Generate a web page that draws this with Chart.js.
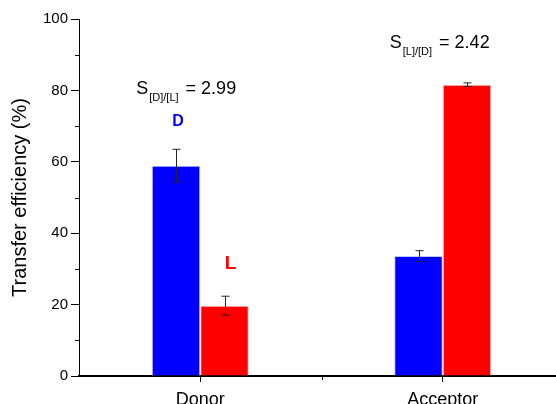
<!doctype html>
<html>
<head>
  <meta charset="utf-8" />
  <title>Transfer efficiency</title>
  <style>
    html, body { margin:0; padding:0; background:#fff; overflow:hidden; }
    #wrap { width:565px; height:404px; }
  </style>
</head>
<body>
  <div id="wrap"><canvas id="chart" width="565" height="404"></canvas></div>

  <script src="https://cdn.jsdelivr.net/npm/chart.js@4.4.1/dist/chart.umd.min.js"></script>
  <script>
    // data
    const categories = ['Donor', 'Acceptor'];
    const donorValues = [58.9, 33.6];      // blue "D"
    const donorErrors = [4.6, 1.5];
    const ligandValues = [19.7, 81.6];     // red "L"
    const ligandErrors = [2.65, 0.5];
    const yTicks = [0, 20, 40, 60, 80, 100];
    const yMinorTicks = [10, 30, 50, 70, 90];
    const selectivity = ['2.99', '2.42'];

    const FONT = 'Arial, "Liberation Sans", sans-serif';

    // error bars, minor ticks and the text labels
    const extras = {
      id: 'extras',
      afterDatasetsDraw(chart) {
        const { ctx, scales: { x, y } } = chart;
        const errs = [donorErrors, ligandErrors];
        ctx.save();
        ctx.strokeStyle = '#222';
        ctx.lineWidth = 1;
        chart.data.datasets.forEach((ds, di) => {
          const meta = chart.getDatasetMeta(di);
          meta.data.forEach((bar, i) => {
            const v = ds.data[i], e = errs[di][i];
            const px = Math.round(bar.x) + 0.5;
            const top = y.getPixelForValue(v + e), bot = y.getPixelForValue(v - e);
            ctx.beginPath();
            ctx.moveTo(px, top); ctx.lineTo(px, bot);
            ctx.moveTo(px - 4, top); ctx.lineTo(px + 4, top);
            ctx.moveTo(px - 4, bot); ctx.lineTo(px + 4, bot);
            ctx.stroke();
          });
        });
        ctx.restore();
      },
      afterDraw(chart) {
        const { ctx, scales: { x, y }, chartArea } = chart;
        ctx.save();
        // minor ticks
        ctx.strokeStyle = '#000';
        ctx.lineWidth = 1;
        ctx.beginPath();
        yMinorTicks.forEach(v => {
          const py = Math.round(y.getPixelForValue(v)) + 0.5;
          ctx.moveTo(chartArea.left - 4, py); ctx.lineTo(chartArea.left, py);
        });
        const mx = Math.round((x.getPixelForValue(0) + x.getPixelForValue(1)) / 2) + 0.5;
        ctx.moveTo(mx, chartArea.bottom); ctx.lineTo(mx, chartArea.bottom + 4);
        ctx.stroke();

        // selectivity labels with subscripts
        const sLabel = (left, value, sub, num) => {
          const base = y.getPixelForValue(value);
          ctx.fillStyle = '#000';
          ctx.textBaseline = 'alphabetic';
          ctx.textAlign = 'left';
          ctx.font = '18px ' + FONT;
          ctx.fillText('S', left, base);
          let cx = left + ctx.measureText('S').width + 1;
          ctx.font = '11px ' + FONT;
          ctx.fillText(sub, cx, base + 7);
          cx += ctx.measureText(sub).width;
          ctx.font = '18px ' + FONT;
          ctx.fillText(' = ' + num, cx + 2, base);
        };
        sLabel(x.getPixelForValue(0) - 64, 79, '[D]/[L]', selectivity[0]);
        sLabel(x.getPixelForValue(1) - 53, 91.8, '[L]/[D]', selectivity[1]);

        // series letters
        const d0 = chart.getDatasetMeta(0).data[0], l0 = chart.getDatasetMeta(1).data[0];
        ctx.textAlign = 'center';
        ctx.textBaseline = 'middle';
        ctx.font = 'bold 16px ' + FONT;
        ctx.fillStyle = '#0000ff';
        ctx.fillText('D', d0.x + 2, y.getPixelForValue(71.3));
        ctx.font = 'bold 19px ' + FONT;
        ctx.fillStyle = '#ff0000';
        ctx.fillText('L', l0.x + 6, y.getPixelForValue(31.4));
        ctx.restore();
      }
    };

    new Chart(document.getElementById('chart').getContext('2d'), {
      type: 'bar',
      data: {
        labels: categories,
        datasets: [
          { label: 'D', data: donorValues, backgroundColor: '#0000ff', borderColor: '#c4c4ff', borderWidth: 1,
            categoryPercentage: 0.4, barPercentage: 1 },
          { label: 'L', data: ligandValues, backgroundColor: '#ff0000', borderColor: '#ffc4c4', borderWidth: 1,
            categoryPercentage: 0.4, barPercentage: 1 }
        ]
      },
      options: {
        responsive: false,
        animation: false,
        layout: { padding: { top: 19, right: 1, left: 0, bottom: 0 } },
        plugins: { legend: { display: false }, tooltip: { enabled: false } },
        scales: {
          x: {
            offset: true,
            grid: { offset: false, drawOnChartArea: false, drawTicks: true, tickLength: 6, color: '#000' },
            border: { color: '#000', width: 2 },
            ticks: { color: '#000', font: { family: FONT, size: 18 }, padding: 7, maxRotation: 0 },
            afterFit: s => { s.height = 28; }
          },
          y: {
            min: 0, max: 100,
            afterBuildTicks: s => { s.ticks = yTicks.map(v => ({ value: v })); },
            grid: { drawOnChartArea: false, drawTicks: true, tickLength: 8, color: '#000' },
            border: { color: '#000', width: 1 },
            ticks: { color: '#000', font: { family: FONT, size: 15 }, padding: 3 },
            title: { display: true, text: 'Transfer efficiency (%)', color: '#000',
                     font: { family: FONT, size: 20 }, padding: { top: 8, bottom: 0 } },
            afterFit: s => { s.width = 79; }
          }
        }
      },
      plugins: [extras]
    });
  </script>
</body>
</html>
